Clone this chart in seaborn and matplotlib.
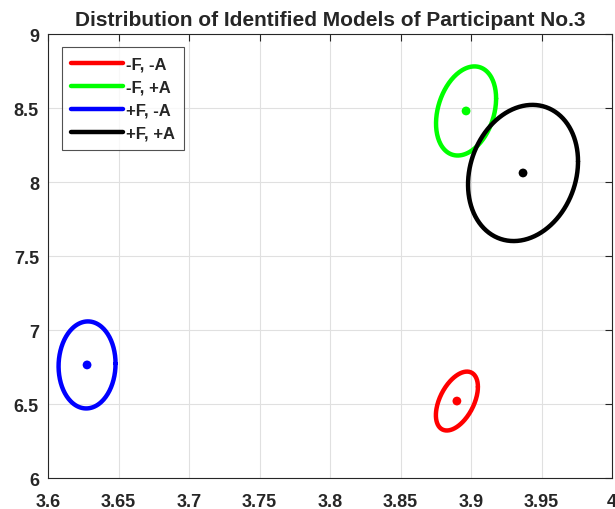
import numpy as np
import pandas as pd
import matplotlib
matplotlib.use("Agg")
import matplotlib.pyplot as plt
import seaborn as sns
from matplotlib.ticker import FormatStrFormatter

# identified models: centre, spread (x, y) and correlation of the ellipse
conditions = ["-F, -A", "-F, +A", "+F, -A", "+F, +A"]
colors = ["#ff0000", "#00ff00", "#0000ff", "#000000"]
center_x = [3.890, 3.8965, 3.6277, 3.9369]
center_y = [6.520, 8.480, 6.764, 8.061]
spread_x = [0.0149, 0.0213, 0.0202, 0.0390]
spread_y = [0.199, 0.301, 0.294, 0.460]
corr = [0.48, 0.28, 0.03, 0.17]

x_ticks = [3.6, 3.65, 3.7, 3.75, 3.8, 3.85, 3.9, 3.95, 4.0]
y_ticks = [6, 6.5, 7, 7.5, 8, 8.5, 9]

t = np.linspace(0, 2 * np.pi, 200)
rows = []
for name, cx, cy, sx, sy, r in zip(conditions, center_x, center_y, spread_x, spread_y, corr):
    ex = cx + sx * np.cos(t)
    ey = cy + sy * (r * np.cos(t) + np.sqrt(1 - r ** 2) * np.sin(t))
    rows.append(pd.DataFrame({"x": ex, "y": ey, "model": name}))
ellipses = pd.concat(rows, ignore_index=True)
centers = pd.DataFrame({"x": center_x, "y": center_y, "model": conditions})

sns.set_style("white")
plt.rcParams["font.family"] = ["Liberation Sans", "DejaVu Sans"]
plt.rcParams["font.weight"] = "bold"

fig = plt.figure(figsize=(6.15, 5.1), dpi=100)
ax = fig.add_axes([48 / 615, 31 / 510, 564 / 615, 444 / 510])

palette = dict(zip(conditions, colors))
sns.lineplot(data=ellipses, x="x", y="y", hue="model", palette=palette, sort=False,
             estimator=None, units="model", linewidth=3.2, ax=ax)
sns.scatterplot(data=centers, x="x", y="y", hue="model", palette=palette, s=40,
                edgecolor="none", legend=False, ax=ax)

ax.set_xlim(3.6, 4.0)
ax.set_ylim(6, 9)
ax.set_xticks(x_ticks)
ax.set_yticks(y_ticks)
ax.xaxis.set_major_formatter(FormatStrFormatter("%g"))
ax.yaxis.set_major_formatter(FormatStrFormatter("%g"))
ax.set_xlabel("")
ax.set_ylabel("")
ax.grid(True, color="#e0e0e0", linewidth=0.8)
ax.tick_params(direction="in", top=True, right=True, length=5, width=0.8,
               color="#262626", labelsize=13)
ax.tick_params(axis="x", pad=11)
ax.tick_params(axis="y", pad=6.5)
for lab in ax.get_xticklabels() + ax.get_yticklabels():
    lab.set_fontweight("bold")
for sp in ax.spines.values():
    sp.set_color("#262626")
    sp.set_linewidth(0.8)

ax.set_title("Distribution of Identified Models of Participant No.3",
             fontsize=15, fontweight="bold", pad=6.5)

leg = ax.legend(loc="upper left", bbox_to_anchor=(0.025, 0.97), fontsize=12,
                handlelength=3.1, frameon=True, fancybox=False, borderpad=0.55,
                labelspacing=0.48, handletextpad=0.2, borderaxespad=0)
leg.get_frame().set_edgecolor("#262626")
leg.get_frame().set_linewidth(0.8)
for txt in leg.get_texts():
    txt.set_fontweight("bold")
for line in leg.get_lines():
    line.set_linewidth(3.2)

fig.savefig("out.png", dpi=100)
